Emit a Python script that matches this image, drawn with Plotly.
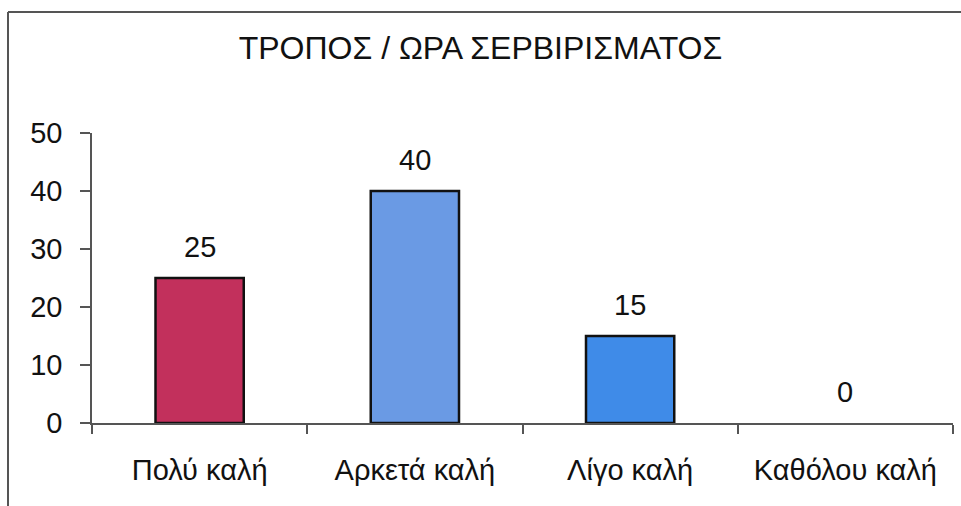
import plotly.graph_objects as go

title_text = "ΤΡΟΠΟΣ / ΩΡΑ ΣΕΡΒΙΡΙΣΜΑΤΟΣ"
categories = ["Πολύ καλή", "Αρκετά καλή", "Λίγο καλή", "Καθόλου καλή"]
values = [25, 40, 15, 0]
bar_colors = ["#C2305C", "#6A9AE4", "#3F8BE8", "#3F8BE8"]
y_ticks = [0, 10, 20, 30, 40, 50]

FONT = "Liberation Sans, Arial, sans-serif"

fig = go.Figure()
fig.add_trace(go.Bar(
    x=categories,
    y=values,
    width=0.41,
    marker=dict(color=bar_colors,
                line=dict(color="#111111", width=[2.5 if v > 0 else 0 for v in values])),
    hoverinfo="x+y",
    showlegend=False,
))

for c, v in zip(categories, values):
    fig.add_annotation(x=c, y=v, text=str(v), showarrow=False,
                       xanchor="center", yanchor="middle", yshift=31,
                       font=dict(family=FONT, size=29, color="#111111"))

fig.update_layout(
    width=961, height=506,
    margin=dict(l=92, r=8, t=133, b=83),
    paper_bgcolor="white", plot_bgcolor="white",
    title=dict(text=title_text, x=0.5, xanchor="center", y=0.905, yanchor="middle",
               font=dict(family=FONT, size=32, color="#111111")),
    font=dict(family=FONT, color="#111111"),
    bargap=0.59,
)
fig.update_xaxes(
    type="category", tickson="boundaries", ticks="outside", ticklen=9,
    tickcolor="#555555", tickwidth=1.5, showline=True, linecolor="#555555", linewidth=1.5,
    showgrid=False, ticklabelstandoff=20,
    tickfont=dict(family=FONT, size=29, color="#111111"),
)
fig.update_yaxes(
    range=[0, 50], tickvals=y_ticks, ticks="outside", ticklen=10,
    tickcolor="#555555", tickwidth=1.5, showline=True, linecolor="#555555", linewidth=1.5,
    showgrid=False, zeroline=False, ticklabelstandoff=12,
    tickfont=dict(family=FONT, size=29, color="#111111"),
)

# outer frame (left and top edges)
fig.add_shape(type="line", xref="paper", yref="paper",
              x0=(8 - 92) / 861, x1=(8 - 92) / 861, y0=(506 - 12 - 83) / 290, y1=-83 / 290,
              line=dict(color="#555555", width=2))
fig.add_shape(type="line", xref="paper", yref="paper",
              x0=(8 - 92) / 861, x1=(961 - 92) / 861, y0=(506 - 12 - 83) / 290, y1=(506 - 12 - 83) / 290,
              line=dict(color="#555555", width=2))

fig.write_html("out.html")
